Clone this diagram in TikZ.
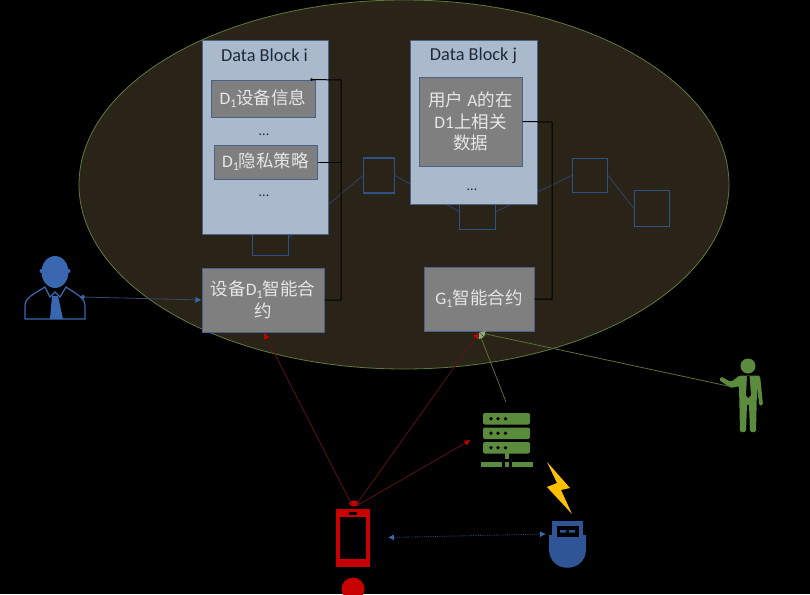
\documentclass[tikz,border=0pt]{standalone}
\usepackage{fontspec}
\setmainfont{Carlito}
\newfontfamily\cjkf{Noto Sans CJK SC}
\newcommand{\zh}[1]{{\cjkf #1}}
\newcommand{\lowone}{\raisebox{-0.35ex}{\fontsize{12}{12}\selectfont 1}}
\usetikzlibrary{arrows.meta,calc,shapes.geometric}
\definecolor{ell}{HTML}{2A2418}
\definecolor{elledge}{HTML}{5E7A3A}
\definecolor{blockfill}{HTML}{AAB9CC}
\definecolor{navy}{HTML}{2F5286}
\definecolor{greybox}{HTML}{7F7F7F}
\definecolor{greyedge}{HTML}{4A6288}
\definecolor{txtl}{HTML}{E6E6E6}
\definecolor{txtd}{HTML}{1F2A38}
\definecolor{iconblue}{HTML}{3A68B0}
\definecolor{usbblue}{HTML}{2F5597}
\definecolor{icongreen}{HTML}{5B8C3E}
\definecolor{iconred}{HTML}{C80000}
\definecolor{dimred}{HTML}{5E1212}
\definecolor{dimblue}{HTML}{34496E}
\definecolor{dimgreen}{HTML}{5C7036}
\definecolor{linkblue}{HTML}{2E4263}
\definecolor{bolt}{HTML}{FFC000}
\tikzset{
  blockbox/.style={draw=greyedge,line width=1pt,fill=blockfill,inner sep=0pt},
  greyrect/.style={draw=greyedge,line width=1pt,fill=greybox,inner sep=0pt,text=txtl,align=center,font=\fontsize{17.5}{21.5}\selectfont},
  chainbox/.style={draw=navy,line width=1.2pt,inner sep=0pt},
  blocktitle/.style={text=txtd,inner sep=0pt,font=\fontsize{18.3}{21}\selectfont},
  dotstext/.style={inner sep=0pt,text=txtd,font=\fontsize{14}{14}\selectfont},
  chainlink/.style={draw=linkblue,line width=0.8pt},
  wire/.style={draw=black,line width=1pt},
  redarrow/.style={draw=dimred,line width=0.8pt,-{Latex[length=6pt,width=6pt,color=iconred]}},
  greenarrow/.style={draw=dimgreen,line width=0.8pt,-{Latex[length=6pt,width=6pt,color=icongreen!70!white]}},
}
\begin{document}
\begin{tikzpicture}[x=1pt,y=-1pt]
\useasboundingbox (0,0) rectangle (810,594);
\fill[black] (0,0) rectangle (810,594);
\node[draw=elledge,line width=0.8pt,fill=ell,ellipse,minimum width=650pt,minimum height=369pt,inner sep=0pt] (cloud) at (404,184.5) {};

% chain squares
\node[chainbox,minimum width=36pt,minimum height=36pt] (s1) at (270.5,237.5) {};
\node[chainbox,minimum width=31pt,minimum height=35pt] (s2) at (379,175.5) {};
\node[chainbox,minimum width=36pt,minimum height=36pt] (s3) at (477.5,211.5) {};
\node[chainbox,minimum width=35pt,minimum height=34pt] (s4) at (590,175.5) {};
\node[chainbox,minimum width=35pt,minimum height=36pt] (s5) at (652,208.5) {};
\draw[chainlink] (s1.east) -- (s2.west);
\draw[chainlink] (s2.east) -- (s3.west);
\draw[chainlink] (s3.east) -- (s4.west);
\draw[chainlink] (s4.east) -- (s5.west);

% blocks
\node[blockbox,minimum width=126pt,minimum height=193pt] (bi) at (265,137.5) {};
\node[blockbox,minimum width=127pt,minimum height=163pt] (bj) at (473.5,122.5) {};
\node[blocktitle] (ti) at (264.5,55.5) {Data Block i};
\node[blocktitle] (tj) at (473.5,55.5) {Data Block j};
\node[greyrect,minimum width=104pt,minimum height=37pt] (info) at (263,98.5) {D\lowone\zh{设备信息}};
\node[dotstext] (d1) at (264,135) {...};
\node[greyrect,minimum width=103pt,minimum height=34pt] (priv) at (265.5,162) {\raisebox{-1.5pt}{D\lowone\zh{隐私策略}}};
\node[dotstext] (d2) at (264,196) {...};
\node[greyrect,minimum width=103pt,minimum height=89pt] (data) at (470.5,121.5) {\zh{用户} A\zh{的在}\\D1\zh{上相关}\\\zh{数据}};
\node[dotstext] (d3) at (472,190) {...};
\node[greyrect,minimum width=122pt,minimum height=64pt] (cd) at (263,300) {\zh{设备}D\lowone\zh{智能合}\\\zh{约}};
\node[greyrect,minimum width=110pt,minimum height=64pt] (cg) at (479,299) {\raisebox{-1.5pt}{G\lowone\zh{智能合约}}};

% wires
\coordinate (ia) at ($(info.north east)+(-4,0)$);
\coordinate (wt) at (341,80);
\draw[wire] (ia) -- (wt) -- (wt |- cd.east) -- (cd.east);
\draw[wire] (priv.east) -- (wt |- priv.east);
\coordinate (wj) at (552,122);
\draw[wire] (data.east) -- (wj) -- (wj |- cg.east) -- (cg.east);
\fill[black] (ia) circle (1.5pt);

% blue user
\fill[iconblue] (55,272) ellipse (13.5pt and 16pt);
\fill[iconblue] (41.5,271) circle (2pt) (68.5,271) circle (2pt);
\draw[iconblue,line width=1.2pt,fill=black] (25,319) -- (25,306) .. controls (25,298) and (32,295) .. (45,287) -- (50,297) -- (55,292) -- (60,297) -- (66,287) .. controls (78,295) and (85,298) .. (85,306) -- (85,319) -- cycle;
\fill[iconblue] (52,296) -- (58,296) -- (63,319) -- (50,319) -- cycle;
\coordinate (userport) at (83,297);
\fill[iconblue] (userport) circle (2pt);
\draw[draw=dimblue,line width=0.8pt,-{Latex[length=6pt,width=6pt,color=iconblue]}] (userport) -- (cd.west);

% phone
\node[draw=none,fill=iconred,minimum width=34pt,minimum height=58pt,inner sep=0pt] (phone) at (353,538) {};
\fill[black] (340,517) rectangle (366,559);
\fill[black] (349,512) rectangle (357,514.5);
\node[fill=iconred,circle,minimum size=23pt,inner sep=0pt] (btn) at (353,589) {};
\coordinate (ph1) at (352,505);
\coordinate (ph2) at (356,505);
\coordinate (ph3) at (358,505);
\fill[iconred] (354,503.5) ellipse (5pt and 3pt);

% server
\foreach \y in {413,427.5,442}{
  \fill[icongreen,rounded corners=2pt] (483,\y) rectangle (530,\y+11.5);
  \foreach \x in {491,498,505.5}{\fill[black] (\x,\y+5.7) circle (1.9pt);}
}
\fill[icongreen] (505,453) rectangle (509,459);
\fill[icongreen] (481,462) rectangle (502,466.5);
\fill[icongreen] (505,462) rectangle (509,466.5);
\fill[icongreen] (512,462) rectangle (533,466.5);
\coordinate (srv) at (506,402);
\coordinate (srvport) at (470.5,440);

% bolt
\fill[bolt] (547,462) -- (570,488) -- (561,490) -- (572,514) -- (547,487) -- (557,483) -- cycle;

% usb
\fill[usbblue] (552,521) rectangle (583,540);
\fill[usbblue] (549,535) -- (586,535) -- (586,549) .. controls (586,574) and (549,574) .. (549,549) -- cycle;
\fill[black] (556.5,526) rectangle (578.5,537);
\fill[usbblue] (560,530) rectangle (566,532.5) (569,530) rectangle (575,532.5);

% green presenter
\fill[icongreen] (748,366) circle (7.5pt);
\fill[icongreen,rounded corners=1.5pt] (739.5,375.5) -- (760,375.5) -- (763,405) -- (759.5,406) -- (757,388) -- (756,432) -- (750,432) -- (749,404) -- (747,404) -- (746,432) -- (740,432) -- (739,386) -- (731,388) -- (719,380) -- (721,376.5) -- (731,382) -- cycle;
\fill[black] (747,376) -- (749.5,376) -- (751,395) -- (748,398) -- (746,395) -- cycle;
\coordinate (pres) at (728,386);

% arrows
\coordinate (cdh) at (264,333);
\coordinate (cgh) at (479,332.5);
\draw[redarrow] (ph1) -- (cdh);
\draw[redarrow] (ph2) -- (cgh);
\draw[redarrow] (ph3) -- (srvport);
\draw[greenarrow] (srv) -- (cgh);
\draw[greenarrow] (pres) -- (cgh);
\coordinate (dotl) at (388,537.5);
\coordinate (dotr) at (546,534);
\draw[dimblue,line width=0.8pt,densely dotted,{Latex[length=6pt,width=6pt,color=iconblue]}-{Latex[length=6pt,width=6pt,color=iconblue]}] (dotl) -- (dotr);
\end{tikzpicture}
\end{document}
